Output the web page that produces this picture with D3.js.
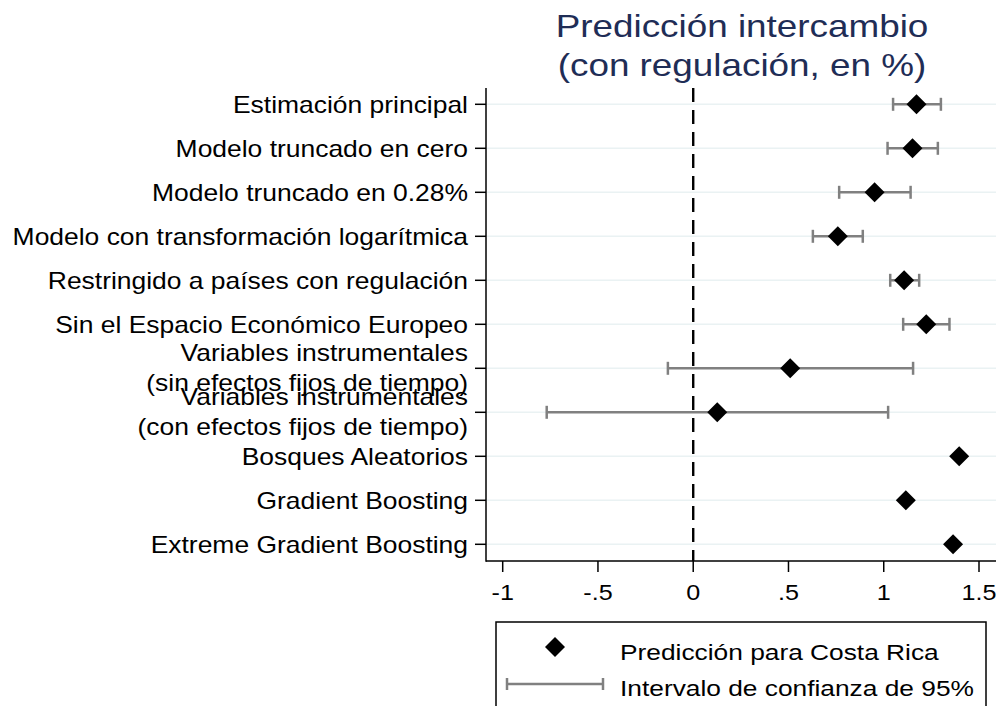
<!DOCTYPE html>
<html>
<head>
<meta charset="utf-8">
<script src="https://cdn.jsdelivr.net/npm/d3@7"></script>
<style>
  body { margin: 0; background: #fff; }
  text { font-family: "Liberation Sans", Arial, sans-serif; }
</style>
</head>
<body>
<svg id="chart" width="1001" height="706"></svg>
<script>
// row labels, top to bottom (multi-line labels split on \n)
const labels = [
  'Estimación principal',
  'Modelo truncado en cero',
  'Modelo truncado en 0.28%',
  'Modelo con transformación logarítmica',
  'Restringido a países con regulación',
  'Sin el Espacio Económico Europeo',
  'Variables instrumentales\n(sin efectos fijos de tiempo)',
  'Variables instrumentales\n(con efectos fijos de tiempo)',
  'Bosques Aleatorios',
  'Gradient Boosting',
  'Extreme Gradient Boosting'
]
// point predictions
const estimates = [1.172, 1.151, 0.952, 0.759, 1.107, 1.223, 0.509, 0.126, 1.396, 1.116, 1.364]
// 95% interval bounds (null where no interval is shown)
const lower = [1.049, 1.020, 0.766, 0.628, 1.034, 1.102, -0.133, -0.769, null, null, null]
const upper = [1.300, 1.284, 1.141, 0.890, 1.186, 1.345, 1.154, 1.023, null, null, null]
const xTicks = [-1, -0.5, 0, 0.5, 1, 1.5]
const titleLines = ['Predicción intercambio', '(con regulación, en %)']
const legendLabels = ['Predicción para Costa Rica', 'Intervalo de confianza de 95%']

const rows = labels.map((l, i) => ({ label: l, est: estimates[i], lo: lower[i], hi: upper[i] }))

const svg = d3.select('#chart')
const SX = 1.17 // text in the original is a bit wider than Arial
const plot = { left: 486, right: 996, top: 88, bottom: 561 }

const x = d3.scaleLinear().domain([-1, 1.5]).range([502.7, 979])
const y = d3.scalePoint().domain(labels).range([104.3, 544.3])

function stext (parent, str, px, py, size, anchor, fill, sx) {
  return parent.append('g')
    .attr('transform', `translate(${px},${py}) scale(${sx || SX},1)`)
    .append('text')
    .attr('text-anchor', anchor)
    .attr('font-size', size)
    .attr('fill', fill || '#000')
    .text(str)
}

// title
titleLines.forEach((t, i) => stext(svg, t, 742, 36.5 + i * 39, 31.5, 'middle', '#1f2d56'))

// grid lines
svg.append('g')
  .selectAll('line')
  .data(labels)
  .enter()
  .append('line')
  .attr('x1', plot.left + 1)
  .attr('x2', plot.right)
  .attr('y1', d => y(d))
  .attr('y2', d => y(d))
  .attr('stroke', '#eaf2f3')
  .attr('stroke-width', 1.6)

// reference line at zero
svg.append('line')
  .attr('x1', x(0)).attr('x2', x(0))
  .attr('y1', plot.top).attr('y2', plot.bottom)
  .attr('stroke', '#000')
  .attr('stroke-width', 2.4)
  .attr('stroke-dasharray', '14,8')

// axes lines
svg.append('line')
  .attr('x1', plot.left).attr('x2', plot.left)
  .attr('y1', plot.top).attr('y2', plot.bottom + 0.75)
  .attr('stroke', '#000').attr('stroke-width', 1.5)
svg.append('line')
  .attr('x1', plot.left).attr('x2', plot.right)
  .attr('y1', plot.bottom).attr('y2', plot.bottom)
  .attr('stroke', '#000').attr('stroke-width', 1.5)

// y ticks and labels
const yAxis = svg.append('g')
yAxis.selectAll('line')
  .data(labels)
  .enter()
  .append('line')
  .attr('x1', plot.left - 11).attr('x2', plot.left)
  .attr('y1', d => y(d)).attr('y2', d => y(d))
  .attr('stroke', '#000').attr('stroke-width', 1.5)
labels.forEach(l => {
  const parts = l.split('\n')
  if (parts.length === 1) {
    stext(yAxis, l, 468, y(l) + 8.5, 23, 'end', null, 1.15)
  } else {
    stext(yAxis, parts[0], 468, y(l) - 7, 23, 'end', null, 1.15)
    stext(yAxis, parts[1], 468, y(l) + 23, 23, 'end', null, 1.15)
  }
})

// x ticks and labels
const xAxis = svg.append('g')
xAxis.selectAll('line')
  .data(xTicks)
  .enter()
  .append('line')
  .attr('x1', d => x(d)).attr('x2', d => x(d))
  .attr('y1', plot.bottom).attr('y2', plot.bottom + 11)
  .attr('stroke', '#000').attr('stroke-width', 1.5)
xTicks.forEach(t => {
  const s = String(t).replace(/^(-?)0\./, '$1.')
  stext(xAxis, s, x(t), 600, 21.5, 'middle')
})

// confidence intervals
const ci = rows.filter(d => d.lo !== null)
const ciG = svg.append('g').attr('stroke', '#808080').attr('stroke-width', 2.5)
ciG.selectAll('.ci')
  .data(ci)
  .enter()
  .append('line')
  .attr('x1', d => x(d.lo)).attr('x2', d => x(d.hi))
  .attr('y1', d => y(d.label)).attr('y2', d => y(d.label))
ciG.selectAll('.caplo')
  .data(ci)
  .enter()
  .append('line')
  .attr('x1', d => x(d.lo)).attr('x2', d => x(d.lo))
  .attr('y1', d => y(d.label) - 6.5).attr('y2', d => y(d.label) + 6.5)
ciG.selectAll('.caphi')
  .data(ci)
  .enter()
  .append('line')
  .attr('x1', d => x(d.hi)).attr('x2', d => x(d.hi))
  .attr('y1', d => y(d.label) - 6.5).attr('y2', d => y(d.label) + 6.5)

// point estimates
const diamond = d3.symbol(d3.symbolSquare, 200)
svg.append('g')
  .selectAll('path')
  .data(rows)
  .enter()
  .append('path')
  .attr('d', diamond)
  .attr('transform', d => `translate(${x(d.est)},${y(d.label)}) rotate(45)`)
  .attr('fill', '#000')

// legend
const lg = svg.append('g')
lg.append('rect')
  .attr('x', 496).attr('y', 622)
  .attr('width', 490).attr('height', 110)
  .attr('fill', '#fff').attr('stroke', '#000').attr('stroke-width', 1.5)
lg.append('path')
  .attr('d', diamond)
  .attr('transform', 'translate(555,647) rotate(45)')
lg.append('line')
  .attr('x1', 507).attr('x2', 603).attr('y1', 684).attr('y2', 684)
  .attr('stroke', '#808080').attr('stroke-width', 2.5)
;[507, 603].forEach(cx => {
  lg.append('line')
    .attr('x1', cx).attr('x2', cx).attr('y1', 678).attr('y2', 690)
    .attr('stroke', '#808080').attr('stroke-width', 2.5)
})
legendLabels.forEach((t, i) => stext(lg, t, 620, 659.5 + i * 36, 22.5, 'start'))
</script>
</body>
</html>
